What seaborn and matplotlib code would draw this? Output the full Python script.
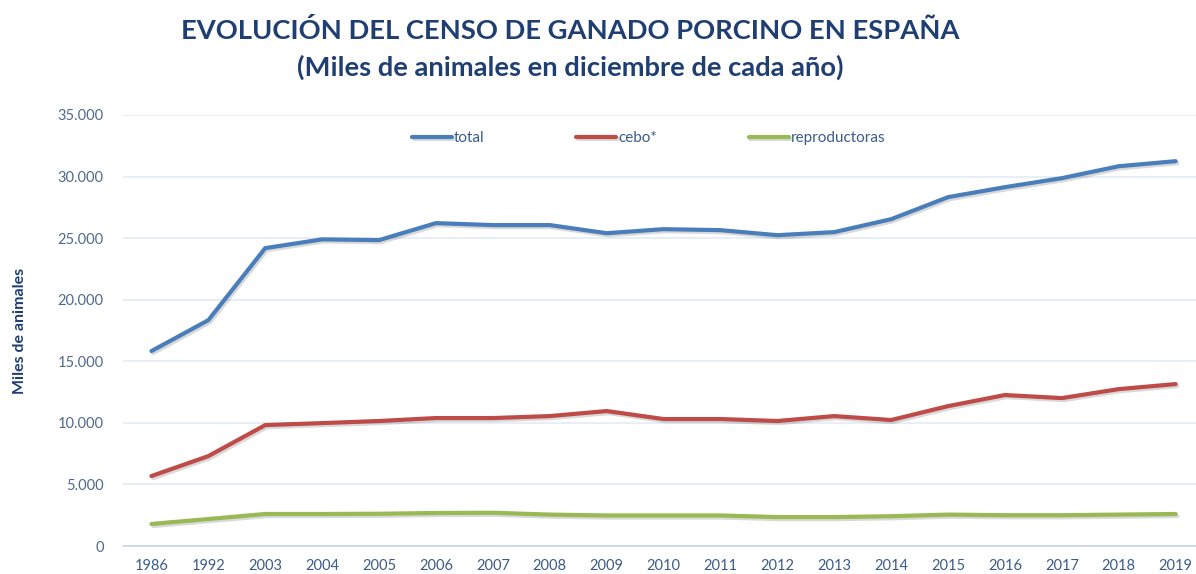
import matplotlib
matplotlib.use("Agg")
import matplotlib.pyplot as plt
import matplotlib.patheffects as pe
from matplotlib.ticker import FuncFormatter, FixedLocator
import seaborn as sns
import pandas as pd
import numpy as np

years = ["1986", "1992", "2003", "2004", "2005", "2006", "2007", "2008", "2009", "2010",
         "2011", "2012", "2013", "2014", "2015", "2016", "2017", "2018", "2019"]
total = [15830, 18340, 24190, 24900, 24840, 26220, 26060, 26060, 25400, 25730,
         25650, 25240, 25490, 26540, 28330, 29140, 29870, 30840, 31250]
cebo = [5680, 7300, 9820, 9980, 10150, 10390, 10390, 10550, 10960, 10310,
        10310, 10150, 10550, 10230, 11360, 12260, 12010, 12740, 13150]
reproductoras = [1790, 2190, 2600, 2600, 2620, 2680, 2700, 2550, 2480, 2480,
                 2480, 2350, 2350, 2420, 2550, 2500, 2500, 2550, 2600]

series_names = ["total", "cebo*", "reproductoras"]
colors = ["#4A7EBB", "#BE4B48", "#98B954"]

df = pd.concat([
    pd.DataFrame({"year": years, "valor": total, "serie": "total"}),
    pd.DataFrame({"year": years, "valor": cebo, "serie": "cebo*"}),
    pd.DataFrame({"year": years, "valor": reproductoras, "serie": "reproductoras"}),
], ignore_index=True)

sns.set_theme(style="white")
plt.rcParams["font.family"] = ["Lato", "DejaVu Sans"]

fig = plt.figure(figsize=(11.96, 5.74), dpi=100)
ax = fig.add_axes([123 / 1196, 28 / 574, (1196 - 123) / 1196, (546 - 115) / 574])

sns.lineplot(data=df, x="year", y="valor", hue="serie", hue_order=series_names,
             palette=colors, linewidth=3.0, ax=ax, sort=False)

for line in ax.get_lines():
    line.set_path_effects([pe.SimpleLineShadow(offset=(1.2, -1.5), alpha=0.15, shadow_color="black"),
                           pe.Normal()])
    line.set_solid_capstyle("round")

ax.set_xlim(-0.5, (1196 - 123) / 56.9 - 0.5)
ax.set_ylim(0, 35000)
ax.set_yticks(np.arange(0, 35001, 5000))
ax.yaxis.set_major_formatter(FuncFormatter(lambda v, p: f"{int(v):,}".replace(",", ".")))
ax.grid(axis="y", color="#E3EBF5", linewidth=1.2)
ax.set_axisbelow(True)

for s in ["top", "right", "left"]:
    ax.spines[s].set_visible(False)
ax.spines["bottom"].set_color("#C9D6E8")
ax.spines["bottom"].set_linewidth(1.2)

ax.set_xticks(range(len(years)))
ax.set_xticklabels(years)
ax.xaxis.set_minor_locator(FixedLocator(np.arange(-0.5, len(years), 1.0)))
ax.tick_params(axis="x", which="major", length=0, pad=9, labelsize=10.5, labelcolor="#3B5B8A")
ax.tick_params(axis="x", which="minor", length=5, color="#C9D6E8", width=1)
ax.tick_params(axis="y", length=0, pad=14, labelsize=10.5, labelcolor="#4F6A8F")

ax.set_xlabel("")
ax.set_ylabel("Miles de animales", fontsize=11.5, fontweight="bold", color="#1F3F73", labelpad=22)

leg = ax.legend(loc="upper center", bbox_to_anchor=(0.49, 0.995), ncol=3, frameon=False,
                handlelength=2.6, handletextpad=0.15, columnspacing=6.0, fontsize=11)
for t in leg.get_texts():
    t.set_color("#3B5B8A")
for h in leg.legend_handles:
    h.set_linewidth(3.0)

fig.text(0.477, 0.947, "EVOLUCIÓN DEL CENSO DE GANADO PORCINO EN ESPAÑA", ha="center", va="center",
         fontsize=19.7, fontweight="bold", color="#1F3F73")
fig.text(0.477, 0.882, "(Miles de animales en diciembre de cada año)", ha="center", va="center",
         fontsize=19.7, fontweight="bold", color="#1F3F73")

fig.savefig("out.png", dpi=100)
